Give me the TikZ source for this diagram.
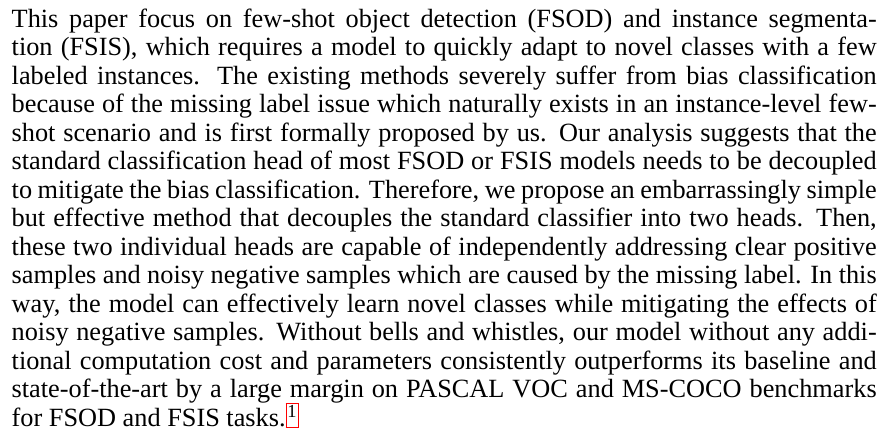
\documentclass[tikz,border=0pt]{standalone}
\usepackage{fontspec}
\setmainfont{Liberation Serif}
\usepackage{xcolor}
\tikzset{paratext/.style={anchor=north west, inner sep=0pt, text width=865pt, align=justify, font=\fontsize{26.3}{28.5}\selectfont}}
\newcommand{\notemark}{{\fboxrule=1pt\fboxsep=0.6pt\fcolorbox{red}{white}{\color{black}\textsuperscript{1}}}}
\begin{document}
\begin{tikzpicture}[x=1pt,y=1pt]
\useasboundingbox (0,0) rectangle (882,438);
\node[paratext] (para) at (11.5,430.95) {\tolerance=10000\hyphenpenalty=10000\strut This paper focus on few-shot object detection (FSOD) and instance segmenta-\linebreak
tion (FSIS), which requires a model to quickly adapt to novel classes with a few\linebreak
labeled instances. The existing methods severely suffer from bias classification\linebreak
because of the missing label issue which naturally exists in an instance-level few-\linebreak
shot scenario and is first formally proposed by us. Our analysis suggests that the\linebreak
standard classification head of most FSOD or FSIS models needs to be decoupled\linebreak
to mitigate the bias classification. Therefore, we propose an embarrassingly simple\linebreak
but effective method that decouples the standard classifier into two heads. Then,\linebreak
these two individual heads are capable of independently addressing clear positive\linebreak
samples and noisy negative samples which are caused by the missing label. In this\linebreak
way, the model can effectively learn novel classes while mitigating the effects of\linebreak
noisy negative samples. Without bells and whistles, our model without any addi-\linebreak
tional computation cost and parameters consistently outperforms its baseline and\linebreak
state-of-the-art by a large margin on PASCAL VOC and MS-COCO benchmarks\linebreak
for FSOD and FSIS tasks.\notemark};
\end{tikzpicture}
\end{document}
